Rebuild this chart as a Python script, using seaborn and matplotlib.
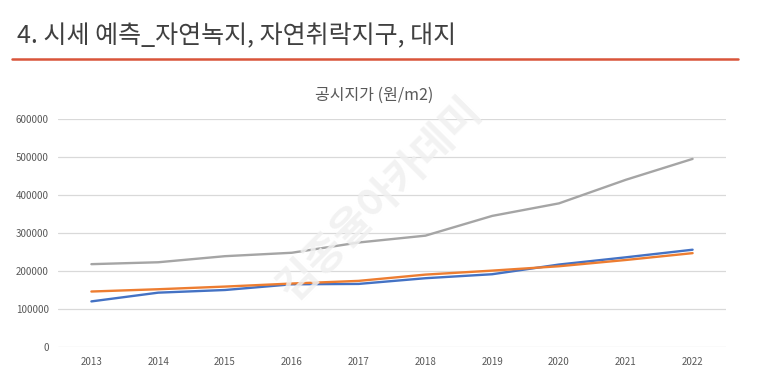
import matplotlib
matplotlib.use("Agg")
import matplotlib.pyplot as plt
import seaborn as sns
import pandas as pd

years = [2013, 2014, 2015, 2016, 2017, 2018, 2019, 2020, 2021, 2022]
series_blue = [120000, 143000, 150000, 165000, 166000, 181000, 191500, 217000, 236000, 256000]
series_orange = [146000, 152000, 159000, 167000, 174000, 190500, 201000, 212500, 229000, 247000]
series_gray = [218000, 223000, 239000, 248000, 275000, 293000, 345000, 378000, 440000, 495000]
series_names = ["자연녹지", "자연취락지구", "대지"]
yticks = [0, 100000, 200000, 300000, 400000, 500000, 600000]

sns.set_theme(style="white")
plt.rcParams['font.family'] = ['Noto Sans CJK KR', 'DejaVu Sans']

rows = []
for name, vals in zip(series_names, [series_blue, series_orange, series_gray]):
    for y, v in zip(years, vals):
        rows.append({"year": y, "value": v, "series": name})
df = pd.DataFrame(rows)

fig = plt.figure(figsize=(7.57, 3.73), dpi=100)
ax = fig.add_axes([58/757, 1-347/373, (726-58)/757, (347-119)/373])

palette = {"자연녹지": "#4472C4", "자연취락지구": "#ED7D31", "대지": "#A5A5A5"}
sns.lineplot(data=df, x="year", y="value", hue="series", palette=palette,
             linewidth=1.7, ax=ax, legend=False, zorder=3)

ax.set_xlim(2012.5, 2022.5)
ax.set_ylim(0, 600000)
ax.set_xticks(years)
ax.set_xticklabels([str(y) for y in years])
ax.set_yticks(yticks)
ax.set_yticklabels([str(v) for v in yticks])
ax.tick_params(axis='both', labelsize=7, colors="#595959", length=0)
ax.tick_params(axis='x', pad=7)
ax.tick_params(axis='y', pad=6.5)
ax.grid(axis='y', color="#D9D9D9", linewidth=0.9, zorder=0)
ax.set_axisbelow(True)
for s in ax.spines.values():
    s.set_visible(False)
ax.set_xlabel("")
ax.set_ylabel("")

# Page title and rule
fig.text(17/757, 1-36/373, "4. 시세 예측_자연녹지, 자연취락지구, 대지", fontsize=18,
         fontweight="light", color="#404040", va="center", ha="left")
fig.add_artist(plt.Line2D([12/757, 738/757], [1-58.5/373, 1-58.5/373],
                          color="#D9553A", linewidth=1.8))

# Chart title
fig.text(374/757, 1-95/373, "공시지가 (원/m2)", fontsize=11.5, color="#595959",
         ha="center", va="center")

# Watermark
fig.text(380/757, 1-200/373, "김종율아카데미", fontsize=30, fontweight="bold",
         color="#F0F0F0", alpha=0.85, rotation=45, ha="center", va="center", zorder=10)

fig.savefig("out.png", dpi=100)
